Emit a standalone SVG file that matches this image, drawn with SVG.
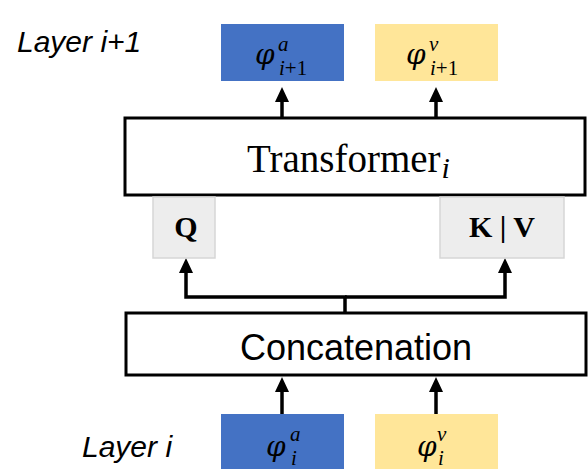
<svg xmlns="http://www.w3.org/2000/svg" width="588" height="469" viewBox="0 0 588 469">
<style>
.box{fill:#fff;stroke:#000;stroke-width:3}
.blue{fill:#4472C4}
.yellow{fill:#FFE699}
.qk{fill:#EDEDED;stroke:#D6D6D6;stroke-width:1.5}
.conn{fill:none;stroke:#000;stroke-width:3.5}
.layer{font-family:"Liberation Sans",Arial,sans-serif;font-style:italic;font-size:30px;fill:#000}
.phi{font-family:"DejaVu Serif","Liberation Serif",serif;font-style:italic;font-size:28px}
.math{font-family:"Liberation Serif","Times New Roman",serif;font-style:italic;font-size:21px;fill:#000}
.up{font-style:normal}
.serif{font-family:"Liberation Serif","Times New Roman",serif;fill:#000}
.sans{font-family:"Liberation Sans",Arial,sans-serif;fill:#000}
</style>
<defs>
<marker id="arr" viewBox="0 0 15 14" refX="7" refY="7" markerWidth="15" markerHeight="14" markerUnits="userSpaceOnUse" orient="auto">
<path d="M0,0 L15,7 L0,14 z" fill="#000"/>
</marker>
</defs>
<g id="connectors">
<path class="conn" d="M282,118 V95" marker-end="url(#arr)"/>
<path class="conn" d="M436,118 V95" marker-end="url(#arr)"/>
<path class="conn" d="M345,313 V297 H186 V266" marker-end="url(#arr)"/>
<path class="conn" d="M345,297 H505 V266" marker-end="url(#arr)"/>
<path class="conn" d="M282,414 V385" marker-end="url(#arr)"/>
<path class="conn" d="M436,414 V385" marker-end="url(#arr)"/>
</g>
<g id="label-layer-i1"><text class="layer" x="17" y="52">Layer i+1</text></g>
<g id="label-layer-i"><text class="layer" x="82" y="457">Layer i</text></g>
<g id="phi-a-top">
<rect class="blue" x="221" y="24" width="123" height="57"/>
<text class="math" x="255" y="64"><tspan class="phi">φ</tspan><tspan x="278" y="51">a</tspan><tspan x="279" y="74.5">i</tspan><tspan class="up">+1</tspan></text>
</g>
<g id="phi-v-top">
<rect class="yellow" x="375" y="24" width="123" height="57"/>
<text class="math" x="406" y="64"><tspan class="phi">φ</tspan><tspan x="429" y="51">v</tspan><tspan x="430" y="74.5">i</tspan><tspan class="up">+1</tspan></text>
</g>
<g id="transformer">
<rect class="box" x="125" y="118" width="460" height="77"/>
<text class="serif" x="247" y="172" font-size="39">Transformer<tspan class="math" style="font-size:30px" dx="1" dy="6">i</tspan></text>
</g>
<g id="q">
<rect class="qk" x="153" y="197" width="62" height="61"/>
<text class="serif" x="186" y="237" font-size="30" font-weight="bold" text-anchor="middle">Q</text>
</g>
<g id="kv">
<rect class="qk" x="440" y="197" width="124" height="61"/>
<text class="serif" x="502" y="237" font-size="30" font-weight="bold" text-anchor="middle">K | V</text>
</g>
<g id="concatenation">
<rect class="box" x="126" y="313" width="460" height="62"/>
<text class="sans" x="356" y="360" font-size="36" text-anchor="middle">Concatenation</text>
</g>
<g id="phi-a-bottom">
<rect class="blue" x="221" y="414" width="123" height="55"/>
<text class="math" x="266" y="456"><tspan class="phi">φ</tspan><tspan x="290" y="441">a</tspan><tspan x="291" y="464.5">i</tspan></text>
</g>
<g id="phi-v-bottom">
<rect class="yellow" x="375" y="414" width="123" height="55"/>
<text class="math" x="417" y="456"><tspan class="phi">φ</tspan><tspan x="437" y="441">v</tspan><tspan x="438" y="464.5">i</tspan></text>
</g>
</svg>
